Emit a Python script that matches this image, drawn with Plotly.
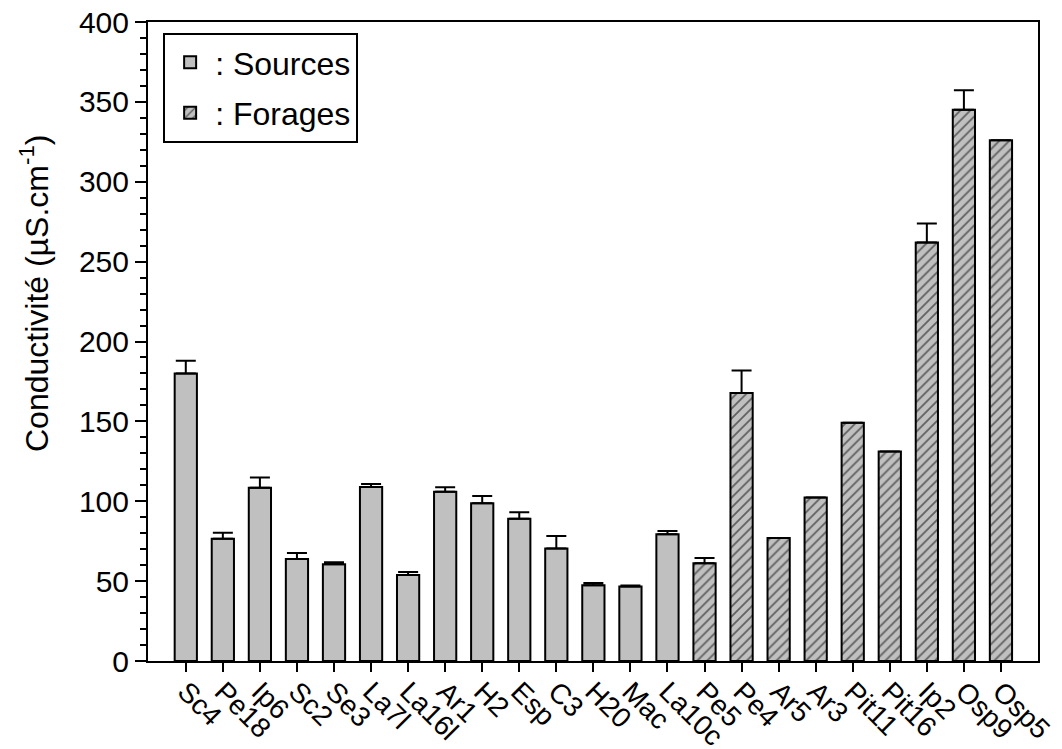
import plotly.graph_objects as go

# ---- data ----
source_sites = ["Sc4", "Pe18", "Ip6", "Sc2", "Se3", "La7l", "La16l", "Ar1", "H2", "Esp",
                "C3", "H20", "Mac", "La10c"]
source_cond = [180.0, 76.6, 108.5, 63.8, 60.5, 108.9, 53.8, 106.0, 98.7, 89.1,
               70.5, 47.4, 46.6, 79.4]
source_err = [8.0, 3.7, 6.3, 3.8, 1.3, 1.9, 1.9, 2.7, 4.6, 4.0,
              7.7, 1.4, 0.6, 1.9]

forage_sites = ["Pe5", "Pe4", "Ar5", "Ar3", "Pit11", "Pit16", "Ip2", "Osp9", "Osp5"]
forage_cond = [61.2, 167.7, 77.0, 102.4, 149.1, 131.2, 262.0, 345.0, 326.0]
forage_err = [3.3, 14.1, None, None, None, None, 11.9, 12.3, None]

all_sites = source_sites + forage_sites
y_ticks = [0, 50, 100, 150, 200, 250, 300, 350, 400]
y_title = "Conductivité (µS.cm<sup>-1</sup>)"

FONT = "Liberation Sans, Arial, sans-serif"
GREY = "#c0c0c0"

fig = go.Figure()

fig.add_trace(go.Bar(
    x=source_sites, y=source_cond, name=": Sources",
    width=0.6,
    marker=dict(color=GREY, line=dict(color="black", width=2)),
    error_y=dict(type="data", array=source_err, symmetric=False,
                 arrayminus=[0] * len(source_err),
                 color="black", thickness=2, width=10),
    legendgroup="s",
))

fig.add_trace(go.Bar(
    x=forage_sites, y=forage_cond, name=": Forages",
    width=0.6,
    marker=dict(color=GREY, line=dict(color="black", width=2),
                pattern=dict(shape="/", fgcolor="black", bgcolor=GREY,
                             size=7, solidity=0.25)),
    error_y=dict(type="data", array=forage_err, symmetric=False,
                 arrayminus=[0] * len(forage_err),
                 color="black", thickness=2, width=10),
    legendgroup="f",
))

fig.update_layout(
    width=1054, height=741,
    margin=dict(l=140, r=24, t=14, b=88),
    paper_bgcolor="white", plot_bgcolor="white",
    barmode="overlay",
    font=dict(family=FONT, size=28, color="black"),
    showlegend=True,
    legend=dict(x=0.017, y=0.983, xanchor="left", yanchor="top",
                bordercolor="black", borderwidth=2, bgcolor="white",
                font=dict(size=32), tracegroupgap=6,
                itemwidth=40),
)

fig.update_xaxes(
    type="category", categoryorder="array", categoryarray=all_sites,
    range=[-1.02, 23.0], automargin=False,
    tickangle=45, tickfont=dict(size=28), ticklabelstandoff=-8,
    ticks="outside", ticklen=9, tickwidth=2, tickcolor="black",
    showline=True, linecolor="black", linewidth=2, mirror=True,
    showgrid=False, zeroline=False, ticklabeloverflow="allow",
)

fig.update_yaxes(
    range=[0, 400], tickvals=y_ticks, automargin=False,
    tickfont=dict(size=30), ticklabeloverflow="allow",
    ticks="outside", ticklen=11, tickwidth=2, tickcolor="black",
    minor=dict(dtick=10, ticks="outside", ticklen=6, tickwidth=1.5, tickcolor="black"),
    showline=True, linecolor="black", linewidth=2, mirror=True,
    showgrid=False, zeroline=False,
)

fig.add_annotation(
    text=y_title, textangle=-90, showarrow=False,
    xref="paper", yref="paper", x=-0.128, y=0.576,
    xanchor="center", yanchor="middle",
    font=dict(size=32, family=FONT),
)

fig.write_html("out.html")
